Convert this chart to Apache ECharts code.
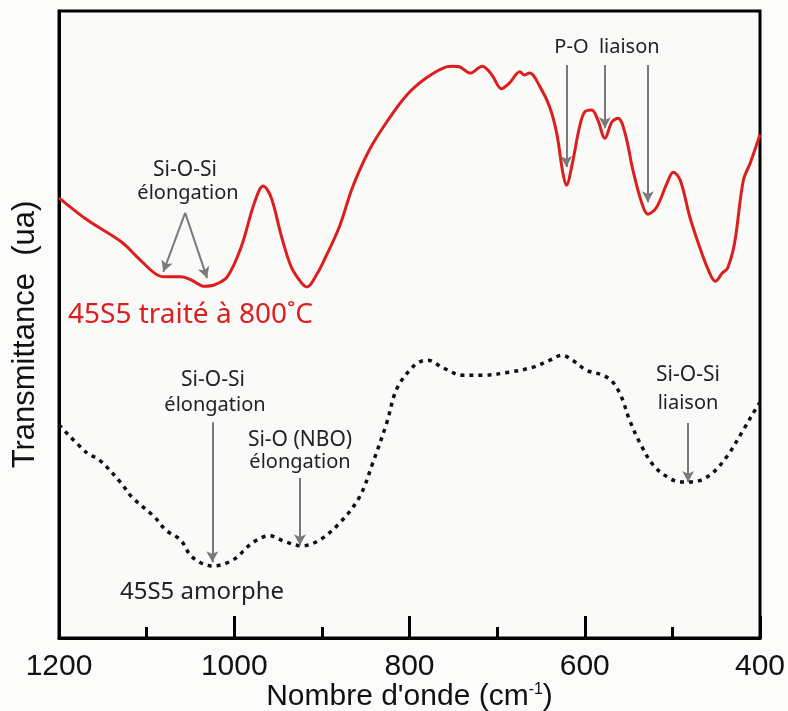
<!DOCTYPE html>
<html>
<head>
<meta charset="utf-8">
<script src="https://cdn.jsdelivr.net/npm/echarts@6/dist/echarts.min.js"></script>
<style>html,body{margin:0;padding:0;background:#fbfbf9;}#c{width:788px;height:711px;}</style>
</head>
<body>
<div id="c"></div>
<script>
// Wavenumber (cm-1) and transmittance (a.u.)
const redWave = [1200,1168,1129,1111,1091,1080,1061,1049,1034,1023,1008,992,977,967,958,946,935,923,917,905,899,880,865,846,826,803,781,758,751,743,731,717,706,695,686,674,669,663,651,640,632,625,621,614,606,600,592,585,577,569,562,554,545,535,528,518,506,499,491,480,469,459,451,443,437,429,419,411,400];
const redTrans = [70.2,66.7,63.2,60.8,58.2,57.6,57.6,57.1,56.1,56.3,57.6,62.4,69.4,72.1,70.3,64.0,59.2,56.6,56.0,58.2,59.8,65.6,71.9,77.8,82.3,86.6,89.3,91.1,91.2,91.1,90.1,91.2,89.8,87.6,88.5,90.3,89.8,90.1,87.9,84.7,80.5,74.2,72.2,75.8,81.5,83.9,84.2,82.6,79.7,82.3,82.9,80.5,74.6,69.4,67.6,68.7,72.6,74.3,73.0,67.1,62.4,58.7,56.9,58.2,59.0,63.0,73.0,75.8,80.3];
const amoWave = [1200,1168,1154,1129,1117,1091,1078,1061,1048,1025,1002,979,960,941,923,903,880,857,842,826,815,800,789,779,762,739,717,686,659,640,626,614,598,579,568,558,549,537,522,506,491,477,457,438,419,402,400];
const amoTrans = [34.0,29.5,28.4,24.7,22.5,19.3,17.2,15.6,12.9,11.5,12.4,15.2,16.3,15.3,14.7,15.6,18.3,22.5,27.9,34.3,39.6,42.7,44.0,44.3,43.1,41.9,41.9,42.4,43.2,44.3,45.1,44.3,42.7,41.9,40.8,38.4,34.8,31.1,27.6,25.7,24.9,24.9,26.0,28.9,33.2,37.2,37.5];
const xTicks = [1200,1000,800,600,400];
// annotation arrows: [wave, fromTrans, wave, toTrans]
const redArrows = [[1056,67.8,1081,58.4],[1056,67.8,1031,57.4],[621,91.4,621,75.1],[577,91.4,577,81.3],[528,91.4,528,69.5]];
const amoArrows = [[1025,34.4,1025,12.1],[925,25.5,925,14.8],[482,34.3,482,24.9]];

const zip = (a,b)=>a.map((v,i)=>[v,b[i]]);
const arrowData = arr => arr.map(a=>[{coord:[a[0],a[1]],symbol:'none'},{coord:[a[2],a[3]],symbol:'arrow'}]);
const annFont = '"Noto Sans", "Open Sans", sans-serif';
const txt = (x,y,s,size,color)=>({type:'text',x:x,y:y,style:{text:s,font:size+'px '+annFont,fill:color||'#222',align:'center',verticalAlign:'middle'}});

const chart = echarts.init(document.getElementById('c'), null, {renderer:'canvas'});
chart.setOption({
  backgroundColor:'#fbfbf9',
  animation:false,
  grid:{left:59,right:28,top:11,bottom:73,outerBoundsMode:'none',containLabel:false,show:true,borderColor:'#000',borderWidth:3,backgroundColor:'#fafaf8'},
  xAxis:{
    type:'value',min:400,max:1200,interval:200,inverse:true,
    name:"Nombre d'onde (cm{sup|-1})",nameLocation:'middle',nameGap:44,nameMoveOverlap:false,
    nameTextStyle:{fontFamily:'"Liberation Sans", Arial, sans-serif',fontSize:30,color:'#111',
      rich:{sup:{fontFamily:'"Liberation Sans", Arial, sans-serif',fontSize:16,color:'#111',verticalAlign:'top'}}},
    axisLine:{show:true,lineStyle:{color:'#000',width:3}},
    axisTick:{show:true,inside:true,length:22,lineStyle:{color:'#000',width:3}},
    minorTick:{show:true,splitNumber:2,length:11,lineStyle:{color:'#000',width:3}},
    splitLine:{show:false},
    axisLabel:{fontFamily:'"Liberation Sans", Arial, sans-serif',fontSize:30,color:'#111',margin:14,
      formatter:v=>xTicks.indexOf(v)>=0?String(v):''}
  },
  yAxis:{
    type:'value',min:0,max:100,
    name:'Transmittance  (ua)',nameLocation:'middle',nameGap:18,nameRotate:90,nameMoveOverlap:false,
    nameTextStyle:{fontFamily:'"Liberation Sans", Arial, sans-serif',fontSize:31,color:'#111',padding:[0,20,0,0]},
    axisLine:{show:true,lineStyle:{color:'#000',width:3}},
    axisTick:{show:false},axisLabel:{show:false},splitLine:{show:false}
  },
  series:[
    {name:'45S5 traité à 800˚C',type:'line',data:zip(redWave,redTrans),smooth:0.35,showSymbol:false,
     lineStyle:{color:'#dc1e1e',width:3},
     markLine:{silent:true,symbolSize:[9,11],label:{show:false},lineStyle:{color:'#7a7a7a',width:2,type:'solid'},data:arrowData(redArrows)}},
    {name:'45S5 amorphe',type:'line',data:zip(amoWave,amoTrans),smooth:0.35,showSymbol:false,
     lineStyle:{color:'#111',width:3.5,type:[4,5]},
     markLine:{silent:true,symbolSize:[9,11],label:{show:false},lineStyle:{color:'#7a7a7a',width:2,type:'solid'},data:arrowData(amoArrows)}}
  ],
  graphic:[
    txt(185,170,'Si-O-Si',21),
    txt(188,193,'élongation',20),
    {type:'text',x:68,y:315,style:{text:'45S5 traité à 800˚C',font:'28px '+annFont,fill:'#dc1e1e',align:'left',verticalAlign:'middle'}},
    txt(607,47,'P-O  liaison',20),
    txt(213,380,'Si-O-Si',21),
    txt(215,405,'élongation',20),
    txt(300,440,'Si-O (NBO)',21),
    txt(300,462,'élongation',20),
    txt(202,592,'45S5 amorphe',24),
    txt(688,375,'Si-O-Si',21),
    txt(688,403,'liaison',20)
  ]
});
</script>
</body>
</html>
